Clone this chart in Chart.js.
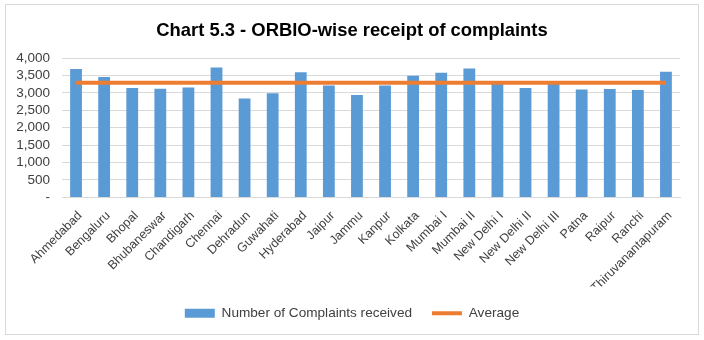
<!DOCTYPE html>
<html>
<head>
<meta charset="utf-8">
<script src="https://cdn.jsdelivr.net/npm/chart.js@4/dist/chart.umd.min.js"></script>
<style>
  html, body { margin: 0; padding: 0; background: #fff; }
  #frame { position: absolute; left: 5px; top: 4px; width: 692px; height: 329px; border: 1px solid #d9d9d9; }
  #wrap { position: absolute; left: 0; top: 0; width: 704px; height: 340px; }
</style>
</head>
<body>
<div id="frame"></div>
<div id="wrap"><canvas id="orbioChart"></canvas></div>
<script>
const offices = ['Ahmedabad', 'Bengaluru', 'Bhopal', 'Bhubaneswar', 'Chandigarh', 'Chennai', 'Dehradun',
  'Guwahati', 'Hyderabad', 'Jaipur', 'Jammu', 'Kanpur', 'Kolkata', 'Mumbai I', 'Mumbai II',
  'New Delhi I', 'New Delhi II', 'New Delhi III', 'Patna', 'Raipur', 'Ranchi', 'Thiruvanantapuram'];
const complaints = [3690, 3456, 3139, 3120, 3156, 3728, 2840, 2988, 3596, 3212, 2943,
  3212, 3493, 3577, 3700, 3268, 3139, 3268, 3100, 3111, 3083, 3605];
const average = [3292, 3292, 3292, 3292, 3292, 3292, 3292, 3292, 3292, 3292, 3292,
  3292, 3292, 3292, 3292, 3292, 3292, 3292, 3292, 3292, 3292, 3292];
const yTicks = [0, 500, 1000, 1500, 2000, 2500, 3000, 3500, 4000];

const font = "'Liberation Sans', Arial, sans-serif";

new Chart(document.getElementById('orbioChart'), {
  type: 'bar',
  data: {
    labels: offices,
    datasets: [{
      type: 'line',
      label: 'Average',
      data: average,
      borderColor: '#ED7D31',
      backgroundColor: '#ED7D31',
      borderWidth: 4,
      pointRadius: 0,
      pointStyle: 'line',
      order: 0
    }, {
      label: 'Number of Complaints received',
      data: complaints,
      backgroundColor: '#5B9BD5',
      borderWidth: 0,
      categoryPercentage: 1,
      barPercentage: 0.42,
      pointStyle: 'rect',
      order: 1
    }]
  },
  options: {
    responsive: true,
    maintainAspectRatio: false,
    animation: false,
    layout: { padding: { left: 0, right: 0, top: 8, bottom: 10 } },
    plugins: {
      title: {
        display: true,
        text: 'Chart 5.3 - ORBIO-wise receipt of complaints',
        color: '#000',
        font: { family: font, size: 18.4, weight: 'bold' },
        padding: { top: 12, bottom: 16 }
      },
      legend: {
        position: 'bottom',
        reverse: true,
        labels: {
          usePointStyle: true,
          pointStyleWidth: 30,
          boxHeight: 9,
          color: '#404040',
          padding: 20,
          font: { family: font, size: 13.6 }
        }
      },
      tooltip: { enabled: false }
    },
    scales: {
      x: {
        afterFit: axis => { axis.height = 89; },
        grid: { display: false, drawTicks: false },
        border: { color: '#d9d9d9' },
        ticks: {
          color: '#404040',
          maxRotation: 45,
          minRotation: 45,
          autoSkip: false,
          padding: 11,
          labelOffset: 4,
          font: { family: font, size: 12.5 }
        }
      },
      y: {
        min: 0,
        max: 4000,
        afterFit: axis => { axis.width = 62; },
        afterBuildTicks: axis => { axis.ticks = yTicks.map(v => ({ value: v })); },
        grid: { color: '#d9d9d9', drawTicks: false },
        border: { display: false },
        ticks: {
          color: '#404040',
          autoSkip: false,
          padding: 12,
          font: { family: font, size: 13.5 },
          callback: v => v === 0 ? '-' : v.toLocaleString('en-US')
        }
      },
      // empty right-hand margin so the plot ends short of the frame
      yRight: {
        position: 'right',
        afterFit: axis => { axis.width = 24; },
        grid: { display: false },
        border: { display: false },
        ticks: { display: false }
      }
    }
  }
});
</script>
</body>
</html>
